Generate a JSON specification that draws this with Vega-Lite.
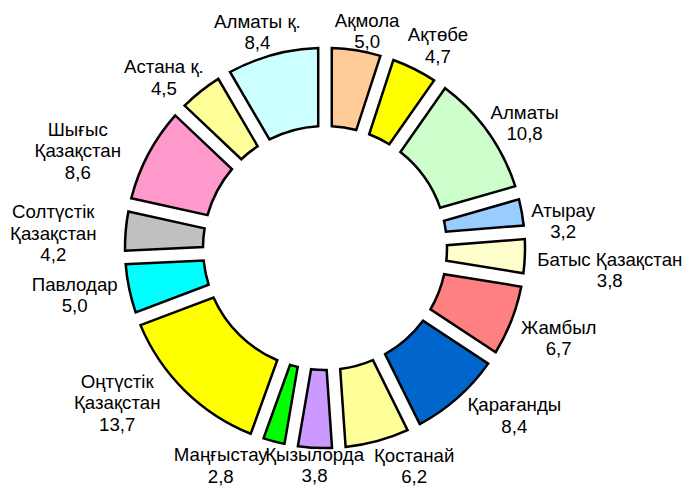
{
  "$schema": "https://vega.github.io/schema/vega-lite/v6.json",
  "autosize": "none",
  "width": 650,
  "height": 472,
  "padding": {"left": 0, "top": 12, "right": 36, "bottom": 2},
  "background": "white",
  "config": {"view": {"stroke": null}, "text": {"font": "Liberation Sans", "fontSize": 18.67, "lineHeight": 21.5, "lineBreak": "\n", "align": "center", "baseline": "middle", "fill": "black"}},
  "data": {
    "values": [
      {"i": 1, "name": "Ақмола", "value": 5.0, "label": "Ақмола\n5,0"},
      {"i": 2, "name": "Ақтөбе", "value": 4.7, "label": "Ақтөбе\n4,7"},
      {"i": 3, "name": "Алматы", "value": 10.8, "label": "Алматы\n10,8"},
      {"i": 4, "name": "Атырау", "value": 3.2, "label": "Атырау\n3,2"},
      {"i": 5, "name": "Батыс Қазақстан", "value": 3.8, "label": "Батыс Қазақстан\n3,8"},
      {"i": 6, "name": "Жамбыл", "value": 6.7, "label": "Жамбыл\n6,7"},
      {"i": 7, "name": "Қарағанды", "value": 8.4, "label": "Қарағанды\n8,4"},
      {"i": 8, "name": "Қостанай", "value": 6.2, "label": "Қостанай\n6,2"},
      {"i": 9, "name": "Қызылорда", "value": 3.8, "label": "Қызылорда\n3,8"},
      {"i": 10, "name": "Маңғыстау", "value": 2.8, "label": "Маңғыстау\n2,8"},
      {"i": 11, "name": "Оңтүстік Қазақстан", "value": 13.7, "label": "Оңтүстік\nҚазақстан\n13,7"},
      {"i": 12, "name": "Павлодар", "value": 5.0, "label": "Павлодар\n5,0"},
      {"i": 13, "name": "Солтүстік Қазақстан", "value": 4.2, "label": "Солтүстік\nҚазақстан\n4,2"},
      {"i": 14, "name": "Шығыс Қазақстан", "value": 8.6, "label": "Шығыс\nҚазақстан\n8,6"},
      {"i": 15, "name": "Астана қ.", "value": 4.5, "label": "Астана қ.\n4,5"},
      {"i": 16, "name": "Алматы қ.", "value": 8.4, "label": "Алматы қ.\n8,4"}
    ]
  },
  "encoding": {
    "theta": {"field": "value", "type": "quantitative", "stack": true},
    "order": {"field": "i", "type": "quantitative"}
  },
  "layer": [
    {
      "mark": {"type": "arc", "innerRadius": 122, "outerRadius": 200, "padAngle": 0.058, "stroke": "black", "strokeWidth": 2.5},
      "encoding": {
        "color": {
          "field": "name",
          "type": "nominal",
          "legend": null,
          "scale": {
            "domain": ["Ақмола", "Ақтөбе", "Алматы", "Атырау", "Батыс Қазақстан", "Жамбыл", "Қарағанды", "Қостанай", "Қызылорда", "Маңғыстау", "Оңтүстік Қазақстан", "Павлодар", "Солтүстік Қазақстан", "Шығыс Қазақстан", "Астана қ.", "Алматы қ."],
            "range": ["#FFCC99", "#FFFF00", "#CCFFCC", "#99CCFF", "#FFFFCC", "#FF8080", "#0066CC", "#FFFF99", "#CC99FF", "#00FF00", "#FFFF00", "#00FFFF", "#C0C0C0", "#FF99CC", "#FFFF99", "#CCFFFF"]
          }
        }
      }
    },
    {
      "mark": {"type": "text", "radius": 231, "thetaOffset": 0.026},
      "encoding": {"text": {"condition": {"test": "datum.name === 'Ақмола'", "field": "label"}, "value": ""}}
    },
    {
      "mark": {"type": "text", "radius": 241, "thetaOffset": 0.025},
      "encoding": {"text": {"condition": {"test": "indexof(['Ақтөбе','Алматы','Атырау'], datum.name) >= 0", "field": "label"}, "value": ""}}
    },
    {
      "mark": {"type": "text", "radius": 285},
      "encoding": {"text": {"condition": {"test": "datum.name === 'Батыс Қазақстан'", "field": "label"}, "value": ""}}
    },
    {
      "mark": {"type": "text", "radius": 247, "thetaOffset": -0.042},
      "encoding": {"text": {"condition": {"test": "datum.name === 'Жамбыл'", "field": "label"}, "value": ""}}
    },
    {
      "mark": {"type": "text", "radius": 246, "thetaOffset": -0.154},
      "encoding": {"text": {"condition": {"test": "datum.name === 'Қарағанды'", "field": "label"}, "value": ""}}
    },
    {
      "mark": {"type": "text", "radius": 226, "thetaOffset": -0.141},
      "encoding": {"text": {"condition": {"test": "datum.name === 'Қостанай'", "field": "label"}, "value": ""}}
    },
    {
      "mark": {"type": "text", "radius": 207},
      "encoding": {"text": {"condition": {"test": "datum.name === 'Қызылорда'", "field": "label"}, "value": ""}}
    },
    {
      "mark": {"type": "text", "radius": 232, "thetaOffset": 0.208},
      "encoding": {"text": {"condition": {"test": "datum.name === 'Маңғыстау'", "field": "label"}, "value": ""}}
    },
    {
      "mark": {"type": "text", "radius": 247, "thetaOffset": 0.222},
      "encoding": {"text": {"condition": {"test": "datum.name === 'Оңтүстік Қазақстан'", "field": "label"}, "value": ""}}
    },
    {
      "mark": {"type": "text", "radius": 253, "thetaOffset": 0.058},
      "encoding": {"text": {"condition": {"test": "datum.name === 'Павлодар'", "field": "label"}, "value": ""}}
    },
    {
      "mark": {"type": "text", "radius": 274, "thetaOffset": 0.045},
      "encoding": {"text": {"condition": {"test": "datum.name === 'Солтүстік Қазақстан'", "field": "label"}, "value": ""}}
    },
    {
      "mark": {"type": "text", "radius": 274, "thetaOffset": -0.042},
      "encoding": {"text": {"condition": {"test": "datum.name === 'Шығыс Қазақстан'", "field": "label"}, "value": ""}}
    },
    {
      "mark": {"type": "text", "radius": 242, "thetaOffset": -0.058},
      "encoding": {"text": {"condition": {"test": "datum.name === 'Астана қ.'", "field": "label"}, "value": ""}}
    },
    {
      "mark": {"type": "text", "radius": 236, "thetaOffset": -0.026},
      "encoding": {"text": {"condition": {"test": "datum.name === 'Алматы қ.'", "field": "label"}, "value": ""}}
    }
  ]
}
